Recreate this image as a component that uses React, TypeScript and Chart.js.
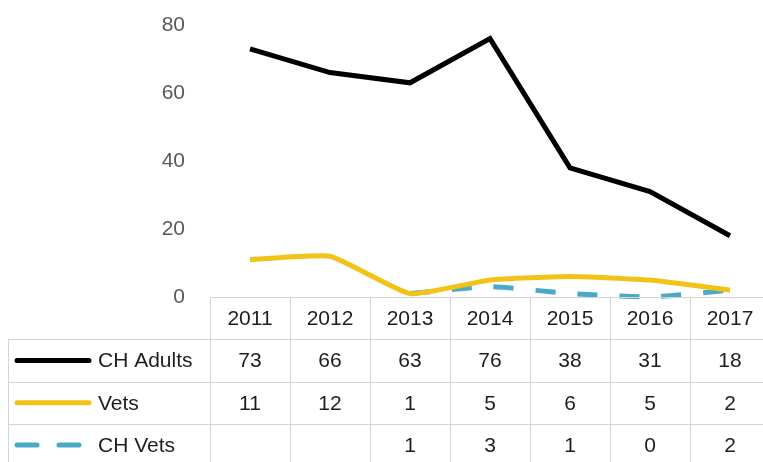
import React, { useEffect, useRef } from "react";
import { Chart, registerables } from "chart.js";

Chart.register(...registerables);

const years = ["2011", "2012", "2013", "2014", "2015", "2016", "2017"];
const chAdults = [73, 66, 63, 76, 38, 31, 18];
const vets = [11, 12, 1, 5, 6, 5, 2];
const chVets: (number | null)[] = [null, null, 1, 3, 1, 0, 2];
const yTicks = [0, 20, 40, 60, 80];

const FONT = "'Liberation Sans', Arial, sans-serif";

const tablePlugin = {
  id: "dataTable",
  afterDraw(chart: any) {
    const ctx = chart.ctx;
    const xs = chart.scales.x;
    const area = chart.chartArea;
    const colW = xs.getPixelForValue(1) - xs.getPixelForValue(0);
    const top = area.bottom;
    const rowH = 42.3;
    const n = years.length;
    const firstLeft = xs.getPixelForValue(0) - colW / 2;
    const lastRight = xs.getPixelForValue(n - 1) + colW / 2;
    const legendLeft = 8;
    const bottom = top + rowH * 4 + 5;
    ctx.save();
    ctx.strokeStyle = "#d4d4d4";
    ctx.lineWidth = 1;
    ctx.beginPath();
    ctx.moveTo(firstLeft, top + 0.5);
    ctx.lineTo(lastRight, top + 0.5);
    for (let r = 1; r <= 3; r++) {
      const y = Math.round(top + rowH * r) + 0.5;
      ctx.moveTo(legendLeft, y);
      ctx.lineTo(lastRight, y);
    }
    ctx.moveTo(legendLeft + 0.5, top + rowH);
    ctx.lineTo(legendLeft + 0.5, bottom);
    for (let i = 0; i <= n; i++) {
      const x = Math.round(firstLeft + colW * i) + 0.5;
      ctx.moveTo(x, top);
      ctx.lineTo(x, bottom);
    }
    ctx.stroke();

    ctx.font = `21px ${FONT}`;
    ctx.fillStyle = "#1e1e1e";
    ctx.textAlign = "center";
    ctx.textBaseline = "middle";
    years.forEach((y, i) => {
      ctx.fillText(y, xs.getPixelForValue(i), top + rowH * 0.5 + 1);
    });
    const rows = [chAdults, vets, chVets];
    chart.data.datasets.forEach((ds: any, r: number) => {
      const cy = top + rowH * (r + 1.5) + 1;
      rows[r].forEach((v, i) => {
        if (v === null || v === undefined) return;
        ctx.fillText(String(v), xs.getPixelForValue(i), cy);
      });
      ctx.save();
      ctx.strokeStyle = ds.borderColor;
      ctx.lineWidth = ds.borderWidth;
      ctx.lineCap = "round";
      ctx.setLineDash(ds.borderDash || []);
      ctx.beginPath();
      ctx.moveTo(17, cy - 1);
      ctx.lineTo(89, cy - 1);
      ctx.stroke();
      ctx.restore();
      ctx.textAlign = "left";
      ctx.fillText(ds.label, 98, cy);
      ctx.textAlign = "center";
    });
    ctx.restore();
  },
};

export default function App() {
  const ref = useRef<HTMLCanvasElement | null>(null);
  useEffect(() => {
    document.body.style.margin = "0";
    const canvas = ref.current!;
    const chart = new Chart(canvas, {
      type: "line",
      data: {
        labels: years,
        datasets: [
          {
            label: "CH Adults",
            data: chAdults,
            borderColor: "#000000",
            borderWidth: 5,
            tension: 0,
            pointRadius: 0,
            clip: false as any,
          },
          {
            label: "Vets",
            data: vets,
            borderColor: "#F2C218",
            borderWidth: 5,
            tension: 0.15,
            pointRadius: 0,
            clip: false as any,
          },
          {
            label: "CH Vets",
            data: chVets,
            borderColor: "#4BA9C8",
            borderWidth: 5,
            borderDash: [20, 22],
            tension: 0.2,
            pointRadius: 0,
            clip: false as any,
          },
        ],
      },
      options: {
        responsive: false,
        animation: false,
        layout: { padding: { top: 25, bottom: 165, left: 0, right: 0 } },
        plugins: { legend: { display: false }, tooltip: { enabled: false } },
        scales: {
          x: {
            type: "category",
            display: false,
            offset: true,
          },
          y: {
            min: 0,
            max: 80,
            afterFit: (s: any) => {
              s.width = 210;
              s.paddingTop = 0;
              s.paddingBottom = 0;
            },
            afterBuildTicks: (s: any) => {
              s.ticks = yTicks.map((v) => ({ value: v }));
            },
            grid: { display: false, drawTicks: false },
            border: { display: false },
            ticks: {
              padding: 25,
              color: "#595959",
              font: { family: FONT, size: 21 },
            },
          },
        },
      },
      plugins: [tablePlugin],
    });
    return () => chart.destroy();
  }, []);
  return (
    <div
      style={{
        position: "fixed",
        left: 0,
        top: 0,
        width: 763,
        height: 462,
        overflow: "hidden",
        background: "#fff",
      }}
    >
      <canvas ref={ref} width={770} height={462} style={{ width: 770, height: 462 }} />
    </div>
  );
}
